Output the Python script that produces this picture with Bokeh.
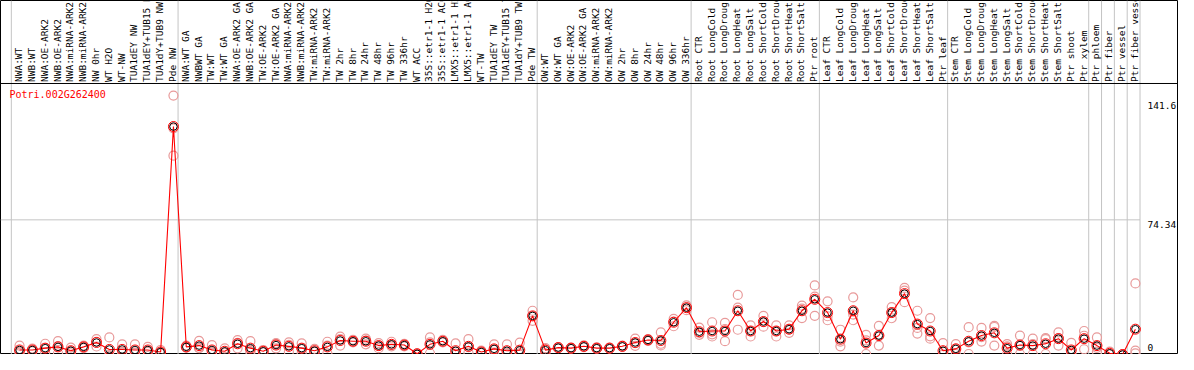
import numpy as np
from bokeh.plotting import figure
from bokeh.models import Span, Range1d, Label
from bokeh.core.properties import value
from bokeh.embed import file_html
from bokeh.resources import INLINE

title = "Potri.002G262400"

samples = [
    "NWA:WT", "NWB:WT", "NWA:OE-ARK2", "NWB:OE-ARK2", "NWA:miRNA-ARK2", "NWB:miRNA-ARK2",
    "NW 0hr", "WT H2O", "WT-NW", "TUA1dEY NW", "TUA1dEY+TUB15 NW", "TUA1dY+TUB9 NW", "Pde NW",
    "NWA:WT GA", "NWBWT GA", "TW:WT", "TW:WT GA", "NWA:OE-ARK2 GA", "NWB:OE-ARK2 GA",
    "TW:OE-ARK2", "TW:OE-ARK2 GA", "NWA:miRNA-ARK2", "NWB:miRNA-ARK2", "TW:miRNA-ARK2",
    "TW:miRNA-ARK2", "TW 2hr", "TW 8hr", "TW 24hr", "TW 48hr", "TW 96hr", "TW 336hr",
    "WT ACC", "35S::etr1-1 H2O", "35S::etr1-1 ACC", "LMX5::etr1-1 H2O", "LMX5::etr1-1 ACC",
    "WT-TW", "TUA1dEY TW", "TUA1dEY+TUB15 TW", "TUA1dY+TUB9 TW", "Pde TW",
    "OW:WT", "OW:WT GA", "OW:OE-ARK2", "OW:OE-ARK2 GA", "OW:miRNA-ARK2", "OW:miRNA-ARK2",
    "OW 2hr", "OW 8hr", "OW 24hr", "OW 48hr", "OW 96hr", "OW 336hr",
    "Root CTR", "Root LongCold", "Root LongDrought", "Root LongHeat", "Root LongSalt",
    "Root ShortCold", "Root ShortDrought", "Root ShortHeat", "Root ShortSalt", "Ptr root",
    "Leaf CTR", "Leaf LongCold", "Leaf LongDrought", "Leaf LongHeat", "Leaf LongSalt",
    "Leaf ShortCold", "Leaf ShortDrought", "Leaf ShortHeat", "Leaf ShortSalt", "Ptr leaf",
    "Stem CTR", "Stem LongCold", "Stem LongDrought", "Stem LongHeat", "Stem LongSalt",
    "Stem ShortCold", "Stem ShortDrought", "Stem ShortHeat", "Stem ShortSalt", "Ptr shoot",
    "Ptr xylem", "Ptr phloem", "Ptr fiber", "Ptr vessel", "Ptr fiber vessel",
]

means = [
    3.0, 3.0, 4.0, 4.7, 2.6, 4.7, 7.1, 3.3, 3.3, 3.0, 3.0, 1.9, 125.5,
    4.7, 5.4, 3.0, 2.3, 6.4, 4.0, 2.3, 5.7, 5.0, 4.0, 2.6, 4.7, 8.2, 7.8, 7.8, 5.4, 6.1, 5.7,
    0.9, 6.1, 7.8, 2.6, 5.0, 1.9, 3.6, 2.6, 2.9, 21.7,
    2.9, 4.3, 4.0, 5.0, 4.0, 4.0, 5.0, 7.1, 8.5, 8.2, 18.2, 26.2,
    13.0, 13.4, 13.4, 24.5, 13.4, 18.6, 13.4, 14.4, 24.5, 30.8,
    23.5, 8.9, 24.5, 6.8, 10.9, 23.5, 33.9, 17.2, 13.4, 2.6,
    3.6, 7.8, 10.9, 12.4, 4.0, 5.7, 5.4, 6.4, 9.2, 3.0,
    9.2, 5.4, 1.2, 0.5, 14.4,
]

rep1 = [
    5.4, 3.8, 6.4, 7.8, 4.3, 5.4, 8.9, 9.9, 6.1, 6.1, 4.7, 3.0, 142.5,
    5.4, 8.0, 5.7, 3.9, 8.4, 7.8, 3.0, 6.4, 7.2, 6.6, 3.6, 7.5, 10.3, 8.6, 9.2, 6.8, 7.5, 6.4,
    1.2, 9.9, 8.6, 6.6, 8.9, 2.6, 6.1, 6.1, 7.0, 24.5,
    1.2, 4.6, 4.3, 5.5, 4.4, 4.3, 5.4, 9.2, 9.0, 12.7, 20.0, 27.5,
    15.3, 18.2, 17.9, 33.2, 16.5, 21.7, 16.5, 16.5, 27.3, 38.4,
    29.7, 14.1, 31.8, 11.3, 16.2, 26.5, 37.0, 24.5, 20.5, 6.8,
    6.2, 15.5, 15.1, 16.2, 6.2, 10.9, 9.2, 9.5, 12.7, 6.9,
    13.4, 9.9, 2.1, 0.6, 39.5,
]

rep2 = [
    1.5, 2.4, 1.6, 1.2, 1.2, 4.0, 7.5, 0.0, 2.0, 1.5, 2.4, 1.5, 109.5,
    4.4, 4.0, 1.8, 1.6, 3.9, 2.4, 1.8, 3.9, 2.0, 1.5, 1.9, 1.2, 5.4, 7.1, 6.1, 4.0, 5.0, 5.0,
    0.6, 1.2, 7.1, 0.5, 1.6, 1.4, 1.5, 0.8, 1.2, 19.0,
    3.5, 4.0, 3.7, 4.6, 3.7, 3.8, 4.7, 5.3, 8.0, 5.5, 16.0, 24.8,
    11.3, 10.4, 7.8, 14.1, 10.4, 15.8, 10.4, 12.4, 20.5, 21.7,
    19.3, 5.0, 19.3, 0.8, 5.4, 20.4, 29.2, 12.0, 9.2, 0.5,
    0.8, 0.8, 7.6, 5.4, 0.8, 0.8, 0.8, 0.8, 5.4, 1.1,
    3.4, 2.1, 0.8, 0.4, 2.6,
]

rep3 = [
    2.1, 2.8, 4.0, 5.1, 2.3, 4.7, 4.9, 0.0, 1.8, 1.4, 1.9, 1.2, 124.5,
    4.3, 4.2, 1.5, 1.4, 6.9, 1.8, 2.1, 6.8, 5.8, 3.9, 2.3, 5.4, 8.9, 7.7, 8.1, 5.4, 5.8, 5.7,
    0.9, 7.2, 7.7, 0.7, 4.5, 1.7, 3.2, 0.9, 0.5, 21.6,
    4.0, 4.3, 4.0, 4.9, 3.9, 3.9, 4.9, 6.8, 8.5, 6.4, 18.6, 26.3,
    12.4, 11.6, 14.5, 26.2, 13.3, 18.3, 13.3, 14.3, 25.7, 32.3,
    21.5, 7.6, 22.4, 8.3, 11.1, 23.6, 35.5, 15.1, 10.5, 0.5,
    3.8, 7.1, 10.0, 15.6, 5.0, 5.4, 6.2, 8.9, 9.5, 1.0,
    10.8, 4.2, 0.7, 0.5, 1.1,
]

# index of the last sample of each block (-1 = left edge)
group_ends = [-1, 12, 40, 52, 62, 72, 83, 84, 85, 86, 87]

y_ticks = [0, 74.34, 141.6]
y_tick_labels = ["0", "74.34", "141.6"]

# ---------------------------------------------------------------------------
W, H = 1178, 354
x_start, x_end = -1.4845, 90.36
y_start, y_end = 0.52, 194.6
header_y = 149.1      # value at which the header band begins
label_y = 149.9       # base of the vertical sample labels
sep_off = 0.36        # separator offset after a block's last sample

MONO_NAME = "DejaVu Sans Mono"
MONO = value(MONO_NAME)

p = figure(width=W, height=H, output_backend="svg", toolbar_location=None,
           x_range=Range1d(x_start, x_end), y_range=Range1d(y_start, y_end),
           x_axis_location=None, y_axis_location=None, min_border=0)
p.grid.visible = False
p.outline_line_color = "black"
p.outline_line_width = 1
p.background_fill_color = "white"
p.border_fill_color = "white"

idx = np.arange(len(samples))

# block separators (full height, through header)
for e in group_ends:
    p.add_layout(Span(location=e + sep_off, dimension="height",
                      line_color="#c4c4c4", line_width=1, level="underlay"))

# header bottom line
p.add_layout(Span(location=header_y, dimension="width",
                  line_color="black", line_width=1, level="underlay"))

# middle gridline
last_sep = group_ends[-1] + sep_off
p.segment(x0=[x_start], x1=[last_sep], y0=[y_ticks[1]], y1=[y_ticks[1]],
          line_color="#c4c4c4", line_width=1, level="underlay")

# vertical sample labels
p.text(x=idx, y=[label_y] * len(samples), text=samples, angle=np.pi / 2,
       text_align="left", text_baseline="middle", text_font=MONO,
       text_font_size="9.5px", text_color="black", x_offset=-1)

# replicates
rx = np.concatenate([idx, idx, idx])
ry = np.concatenate([rep1, rep2, rep3])
p.scatter(x=rx, y=ry, marker="circle", size=9, fill_color=None,
          line_color="#e89a9a", line_width=1.2)

# means
p.line(x=idx, y=means, line_color="red", line_width=1.1)
p.scatter(x=idx, y=means, marker="circle", size=10, fill_color=None,
          line_color="red", line_width=1)
p.scatter(x=idx, y=means, marker="circle", size=7.5, fill_color=None,
          line_color="black", line_width=1)

# title
p.add_layout(Label(x=9, y=259.9, x_units="screen", y_units="screen", text=title,
                   text_color="red", text_font=MONO_NAME, text_font_size="10px",
                   text_baseline="middle", text_align="left"))

# value labels on the right
offsets = [4, -1, -5]
baselines = ["bottom", "top", "top"]
for t, lab, dy, bl in zip(y_ticks, y_tick_labels, offsets, baselines):
    p.add_layout(Label(x=1147, y=t, x_units="screen", y_units="data", text=lab,
                       text_color="black", text_font=MONO_NAME, text_font_size="9.5px",
                       text_baseline=bl, text_align="left", y_offset=dy))

open("out.html", "w").write(file_html(p, INLINE))
